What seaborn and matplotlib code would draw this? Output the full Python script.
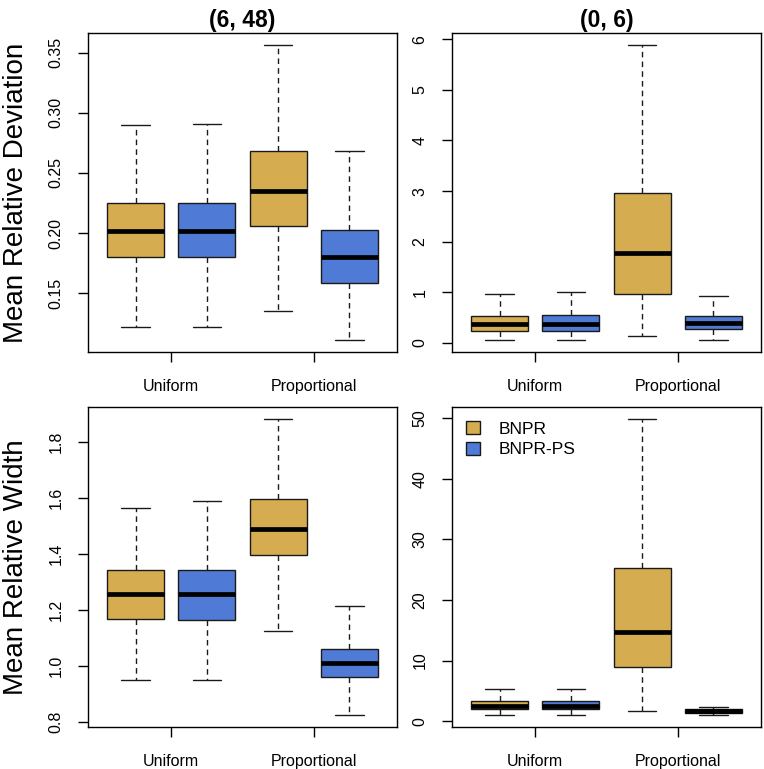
import numpy as np
import pandas as pd
import matplotlib
matplotlib.use("Agg")
import matplotlib.pyplot as plt
from matplotlib import font_manager
import seaborn as sns

# categories and colours
schemes = ["Uniform", "Proportional"]
methods = ["BNPR", "BNPR-PS"]
palette = ["#D5AD50", "#4F7AD5"]

# five-number summaries read off the boxes: [min, q1, median, q3, max]
# one list per scheme (Uniform, Proportional)
dev_6_48_bnpr = [[0.1224, 0.1803, 0.2016, 0.2250, 0.2900],
                 [0.1353, 0.2057, 0.2349, 0.2686, 0.3564]]
dev_6_48_ps = [[0.1224, 0.1803, 0.2018, 0.2250, 0.2904],
               [0.1111, 0.1583, 0.1798, 0.2027, 0.2686]]

dev_0_6_bnpr = [[0.065, 0.235, 0.37, 0.54, 0.97],
                [0.144, 0.97, 1.771, 2.957, 5.89]]
dev_0_6_ps = [[0.065, 0.235, 0.37, 0.557, 1.015],
              [0.055, 0.27, 0.393, 0.54, 0.93]]

wid_6_48_bnpr = [[0.949, 1.169, 1.256, 1.344, 1.564],
                 [1.1235, 1.397, 1.489, 1.595, 1.883]]
wid_6_48_ps = [[0.948, 1.165, 1.256, 1.343, 1.591],
               [0.824, 0.959, 1.009, 1.061, 1.214]]

wid_0_6_bnpr = [[1.05, 1.93, 2.5, 3.35, 5.29],
                [1.75, 8.97, 14.75, 25.3, 49.9]]
wid_0_6_ps = [[1.05, 1.93, 2.5, 3.35, 5.29],
              [0.99, 1.37, 1.65, 1.98, 2.36]]

yticks_dev_6_48 = [0.15, 0.20, 0.25, 0.30, 0.35]
yticks_dev_0_6 = [0, 1, 2, 3, 4, 5, 6]
yticks_wid_6_48 = [0.8, 1.0, 1.2, 1.4, 1.6, 1.8]
yticks_wid_0_6 = [0, 10, 20, 30, 40, 50]


def make_frame(bnpr, bnpr_ps):
    rows = []
    for method, stats in zip(methods, [bnpr, bnpr_ps]):
        for scheme, five in zip(schemes, stats):
            for v in five:
                rows.append({"scheme": scheme, "method": method, "value": v})
    return pd.DataFrame(rows)


sns.set_theme(style="white")
plt.rcParams["font.family"] = ["Liberation Sans", "DejaVu Sans"]
plt.rcParams["text.color"] = "black"
plt.rcParams["axes.labelcolor"] = "black"

# bold title in regular-width Liberation Sans
bold_file = None
for f in font_manager.fontManager.ttflist:
    if f.name == "Liberation Sans" and f.weight in (700, "bold") and f.style == "normal":
        bold_file = f.fname
title_font = (font_manager.FontProperties(fname=bold_file, size=16.5)
              if bold_file else
              font_manager.FontProperties(family="Liberation Sans", weight="bold", size=16.5))

fig = plt.figure(figsize=(7.64, 7.69), dpi=100)
lefts = [88 / 764, 452 / 764]
width = 309 / 764
rows_pos = [(1 - 352 / 769, 319 / 769), (1 - 727 / 769, 320 / 769)]

panels = [
    (dev_6_48_bnpr, dev_6_48_ps, yticks_dev_6_48, "{:.2f}", "(6, 48)", "Mean Relative Deviation"),
    (dev_0_6_bnpr, dev_0_6_ps, yticks_dev_0_6, "{:.0f}", "(0, 6)", None),
    (wid_6_48_bnpr, wid_6_48_ps, yticks_wid_6_48, "{:.1f}", None, "Mean Relative Width"),
    (wid_0_6_bnpr, wid_0_6_ps, yticks_wid_0_6, "{:.0f}", None, None),
]

for i, (bnpr, ps, yticks, fmt, title, ylabel) in enumerate(panels):
    r, c = divmod(i, 2)
    ax = fig.add_axes([lefts[c], rows_pos[r][0], width, rows_pos[r][1]])
    df = make_frame(bnpr, ps)
    show_legend = i == 3
    sns.boxplot(
        data=df, x="scheme", y="value", hue="method",
        order=schemes, hue_order=methods, palette=palette, saturation=1,
        whis=(0, 100), width=1.0, gap=0.2, dodge=True,
        linecolor="#1a1a1a", linewidth=1.0,
        whiskerprops=dict(linestyle=(0, (4, 3))),
        medianprops=dict(linewidth=3.4, color="black"),
        legend=show_legend, ax=ax,
    )
    ax.set_xlim(-0.585, 1.585)
    # R-style 4% padding of the data range
    vals = df["value"]
    rng = vals.max() - vals.min()
    ax.set_ylim(vals.min() - 0.04 * rng, vals.max() + 0.04 * rng)

    ax.set_yticks(yticks)
    ax.set_yticklabels([fmt.format(t) for t in yticks])
    ax.set_xlabel("")
    ax.set_ylabel("")
    ax.tick_params(axis="x", bottom=True, length=7.5, width=1, pad=12,
                   labelsize=11.5, colors="black")
    ax.tick_params(axis="y", left=True, length=7.5, width=1, pad=10,
                   labelsize=11.5, colors="black", labelrotation=90)
    for lbl in ax.get_yticklabels():
        lbl.set_va("center")
    for sp in ax.spines.values():
        sp.set_visible(True)
        sp.set_color("black")
        sp.set_linewidth(1)

    if title:
        ax.set_title(title, fontproperties=title_font, pad=4, color="black")
    if ylabel:
        ax.set_ylabel(ylabel, fontsize=20, color="black")
        ax.yaxis.set_label_coords(-0.19, 0.5)

    if show_legend:
        handles, labels = ax.get_legend_handles_labels()
        ax.legend(handles, labels, loc="upper left", bbox_to_anchor=(0, 1),
                  frameon=False, fontsize=12.5, handlelength=0.8,
                  handleheight=0.8, handletextpad=1.1, labelspacing=0.3,
                  borderaxespad=0, borderpad=0.8, labelcolor="black")

fig.savefig("out.png", dpi=100)
